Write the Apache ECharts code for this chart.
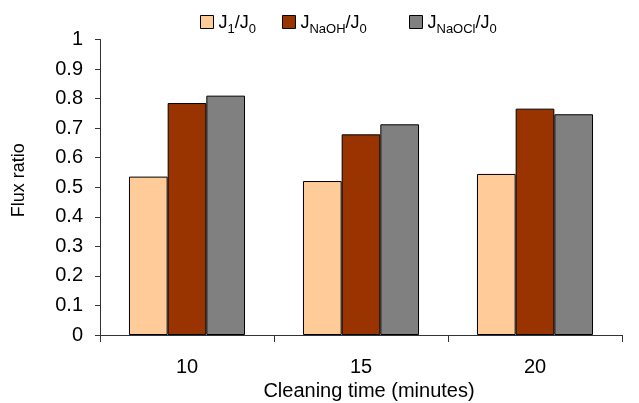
<!DOCTYPE html>
<html>
<head>
<meta charset="utf-8">
<script src="https://cdn.jsdelivr.net/npm/echarts@6/dist/echarts.min.js"></script>
<style>
html, body { margin: 0; padding: 0; background: #fff; }
#chart { width: 639px; height: 403px; }
</style>
</head>
<body>
<div id="chart"></div>
<script>
var categories = ['10', '15', '20'];
var seriesNames = ['J1/J0', 'JNaOH/J0', 'JNaOCl/J0'];
var j1Values = [0.536, 0.521, 0.545];
var naohValues = [0.785, 0.679, 0.766];
var naoclValues = [0.810, 0.713, 0.747];
var yTicks = [0, 0.1, 0.2, 0.3, 0.4, 0.5, 0.6, 0.7, 0.8, 0.9, 1];

// legend text with subscripts
var legendRich = {
	'J1/J0': '{m|J}{s|1}{m|/J}{s|0}',
	'JNaOH/J0': '{m|J}{s|NaOH}{m|/J}{s|0}',
	'JNaOCl/J0': '{m|J}{s|NaOCl}{m|/J}{s|0}'
};

var chart = echarts.init(document.getElementById('chart'));
var font = 'Liberation Sans, Arial, sans-serif';

var legendText = {
	fontFamily : font,
	color : '#000',
	rich : {
		m : { fontSize : 18, fontFamily : font, color : '#000', lineHeight : 20, verticalAlign : 'bottom' },
		s : { fontSize : 13, fontFamily : font, color : '#000', lineHeight : 20, verticalAlign : 'bottom', padding : [0, 0, -4, 0] }
	}
};

function mkBar(name, data, color) {
	return {
		name : name,
		type : 'bar',
		data : data,
		barGap : '0%',
		barCategoryGap : '33.3%',
		itemStyle : { color : color, borderColor : '#000', borderWidth : 1 },
		emphasis : { disabled : true }
	};
}

var option = {
	animation : false,
	legend : [ {
		data : [ seriesNames[0], seriesNames[1] ],
		left : 200,
		top : 14,
		padding : 0,
		itemWidth : 13,
		itemHeight : 13,
		itemGap : 26,
		icon : 'rect',
		itemStyle : { borderColor : '#000', borderWidth : 1 },
		formatter : function(n) { return legendRich[n]; },
		textStyle : legendText
	}, {
		data : [ seriesNames[2] ],
		left : 409,
		top : 14,
		padding : 0,
		itemWidth : 13,
		itemHeight : 13,
		icon : 'rect',
		itemStyle : { borderColor : '#000', borderWidth : 1 },
		formatter : function(n) { return legendRich[n]; },
		textStyle : legendText
	} ],
	grid : {
		left : 100,
		right : 17,
		top : 39.5,
		bottom : 68,
		outerBoundsMode : 'none'
	},
	xAxis : {
		type : 'category',
		data : categories,
		name : 'Cleaning time (minutes)',
		nameLocation : 'middle',
		nameGap : 46,
		nameTextStyle : { fontFamily : font, fontSize : 20, color : '#000', padding : [0, 0, 0, 16] },
		axisLine : { lineStyle : { color : '#333', width : 1 } },
		axisTick : { show : true, length : 7, lineStyle : { color : '#333' } },
		axisLabel : { margin : 22, fontFamily : font, fontSize : 20, color : '#000' }
	},
	yAxis : {
		type : 'value',
		min : 0,
		max : 1,
		interval : 0.1,
		name : 'Flux ratio',
		nameLocation : 'middle',
		nameGap : 72,
		nameTextStyle : { fontFamily : font, fontSize : 18, color : '#000', padding : [0, 0, 0, 14] },
		axisLine : { show : true, lineStyle : { color : '#333', width : 1 } },
		axisTick : { show : true, length : 5, lineStyle : { color : '#333' } },
		splitLine : { show : false },
		axisLabel : {
			margin : 17,
			fontFamily : font,
			fontSize : 20,
			color : '#000',
			formatter : function(v) {
				var t = yTicks.filter(function(x) { return Math.abs(x - v) < 1e-9; })[0];
				return t === undefined ? '' : String(+t.toFixed(1));
			}
		}
	},
	series : [
		mkBar(seriesNames[0], j1Values, '#FFCC99'),
		mkBar(seriesNames[1], naohValues, '#993300'),
		mkBar(seriesNames[2], naoclValues, '#808080')
	]
};
chart.setOption(option);
</script>
</body>
</html>
